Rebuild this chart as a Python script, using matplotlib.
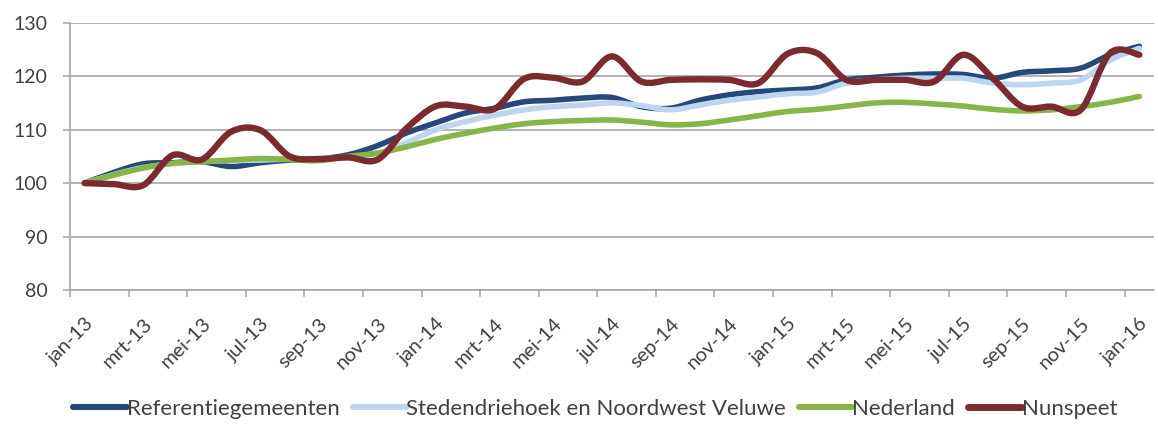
import matplotlib.pyplot as plt
import numpy as np
from matplotlib.path import Path
from matplotlib.patches import PathPatch
from matplotlib.lines import Line2D

months = ["jan", "feb", "mrt", "apr", "mei", "jun", "jul", "aug", "sep", "okt", "nov", "dec"]
categories = [f"{months[i % 12]}-{13 + i // 12}" for i in range(37)]

referentie = [100, 102.0, 103.6, 103.8, 104.0, 103.1, 103.8, 104.3, 104.5, 105.3, 107.0, 109.4,
              111.3, 113.1, 114.0, 115.2, 115.5, 115.9, 116.0, 114.3, 114.0, 115.5, 116.5, 117.1,
              117.4, 117.8, 119.3, 119.8, 120.2, 120.4, 120.3, 119.6, 120.7, 121.0, 121.5, 124.0, 125.6]
stedendriehoek = [100, 101.6, 102.9, 103.6, 104.0, 104.2, 104.3, 104.5, 104.6, 104.8, 105.6, 107.6,
                  110.0, 111.5, 112.7, 113.7, 114.3, 114.6, 115.0, 114.5, 113.7, 114.6, 115.5, 116.1,
                  116.7, 117.0, 118.7, 119.3, 119.6, 119.6, 119.6, 118.7, 118.4, 118.7, 119.3, 123.0, 125.2]
nederland = [100, 101.5, 102.8, 103.7, 104.0, 104.3, 104.6, 104.4, 104.2, 105.0, 105.6, 106.8,
             108.2, 109.3, 110.3, 111.1, 111.5, 111.7, 111.8, 111.4, 110.9, 111.1, 111.8, 112.6,
             113.4, 113.8, 114.4, 115.0, 115.1, 114.8, 114.4, 113.8, 113.5, 113.7, 114.3, 115.1, 116.2]
nunspeet = [100, 99.8, 99.6, 105.2, 104.4, 109.6, 109.9, 105.0, 104.5, 104.8, 104.4, 110.3,
            114.4, 114.3, 113.9, 119.5, 119.7, 119.0, 123.7, 119.0, 119.3, 119.4, 119.3, 118.7,
            124.2, 124.3, 119.3, 119.3, 119.3, 119.0, 124.0, 119.6, 114.3, 114.3, 113.7, 124.3, 124.0]

series = [
    ("Referentiegemeenten", referentie, "#26497c", 4.0),
    ("Stedendriehoek en Noordwest Veluwe", stedendriehoek, "#bdd5ef", 4.0),
    ("Nederland", nederland, "#87b548", 4.0),
    ("Nunspeet", nunspeet, "#7b2b2f", 4.6),
]


def smooth_path(xs, ys):
    # Excel-style smoothed line as cubic Bezier segments through the data points
    pts = np.column_stack([xs, ys]).astype(float)
    verts = [pts[0]]
    codes = [Path.MOVETO]
    n = len(pts)
    for i in range(n - 1):
        p0 = pts[max(i - 1, 0)]
        p1 = pts[i]
        p2 = pts[i + 1]
        p3 = pts[min(i + 2, n - 1)]
        c1 = p1 + (p2 - p0) / 6.0
        c2 = p2 - (p3 - p1) / 6.0
        verts += [c1, c2, p2]
        codes += [Path.CURVE4] * 3
    return Path(verts, codes)


plt.rcParams['font.family'] = ['Lato', 'DejaVu Sans']

fig = plt.figure(figsize=(11.58, 4.24), dpi=100)
ax = fig.add_axes([0.0604, 0.316, 0.9361, 0.6305])

x = np.arange(len(categories))
handles = []
for name, vals, color, lw in series:
    patch = PathPatch(smooth_path(x, vals), facecolor="none", edgecolor=color,
                      linewidth=lw, capstyle="round", joinstyle="round", zorder=3)
    ax.add_patch(patch)
    handles.append(Line2D([], [], color=color, linewidth=lw + 0.4, solid_capstyle="round", label=name))

ax.set_xlim(-0.5, len(categories) - 0.5)
ax.set_ylim(80, 130)
ax.set_yticks(range(80, 131, 10))
ax.grid(axis="y", color="#a6a6a6", linewidth=1.2)
ax.set_axisbelow(True)

ax.set_xticks(x[::2])
ax.set_xticklabels(categories[::2], rotation=45, ha="right", rotation_mode="anchor")
ax.set_xticks(np.arange(-0.5, len(categories) - 1, 2), minor=True)
ax.tick_params(axis="x", which="major", length=0, pad=18, labelsize=14.5, labelcolor="#404040")
ax.tick_params(axis="x", which="minor", length=5, width=1.1, color="#a6a6a6", direction="out")
ax.tick_params(axis="y", length=5, width=1.1, color="#a6a6a6", labelsize=14, labelcolor="#404040", pad=11)

for side in ["top", "right"]:
    ax.spines[side].set_visible(False)
for side in ["left", "bottom"]:
    ax.spines[side].set_color("#a6a6a6")
    ax.spines[side].set_linewidth(1.2)

fig.legend(handles=handles, loc="lower center", bbox_to_anchor=(0.514, -0.008), ncol=4,
           frameon=False, fontsize=16, handlelength=2.4, handletextpad=0.0, columnspacing=0.6,
           borderaxespad=0, labelcolor="#404040")

fig.savefig("out.png", dpi=100)
